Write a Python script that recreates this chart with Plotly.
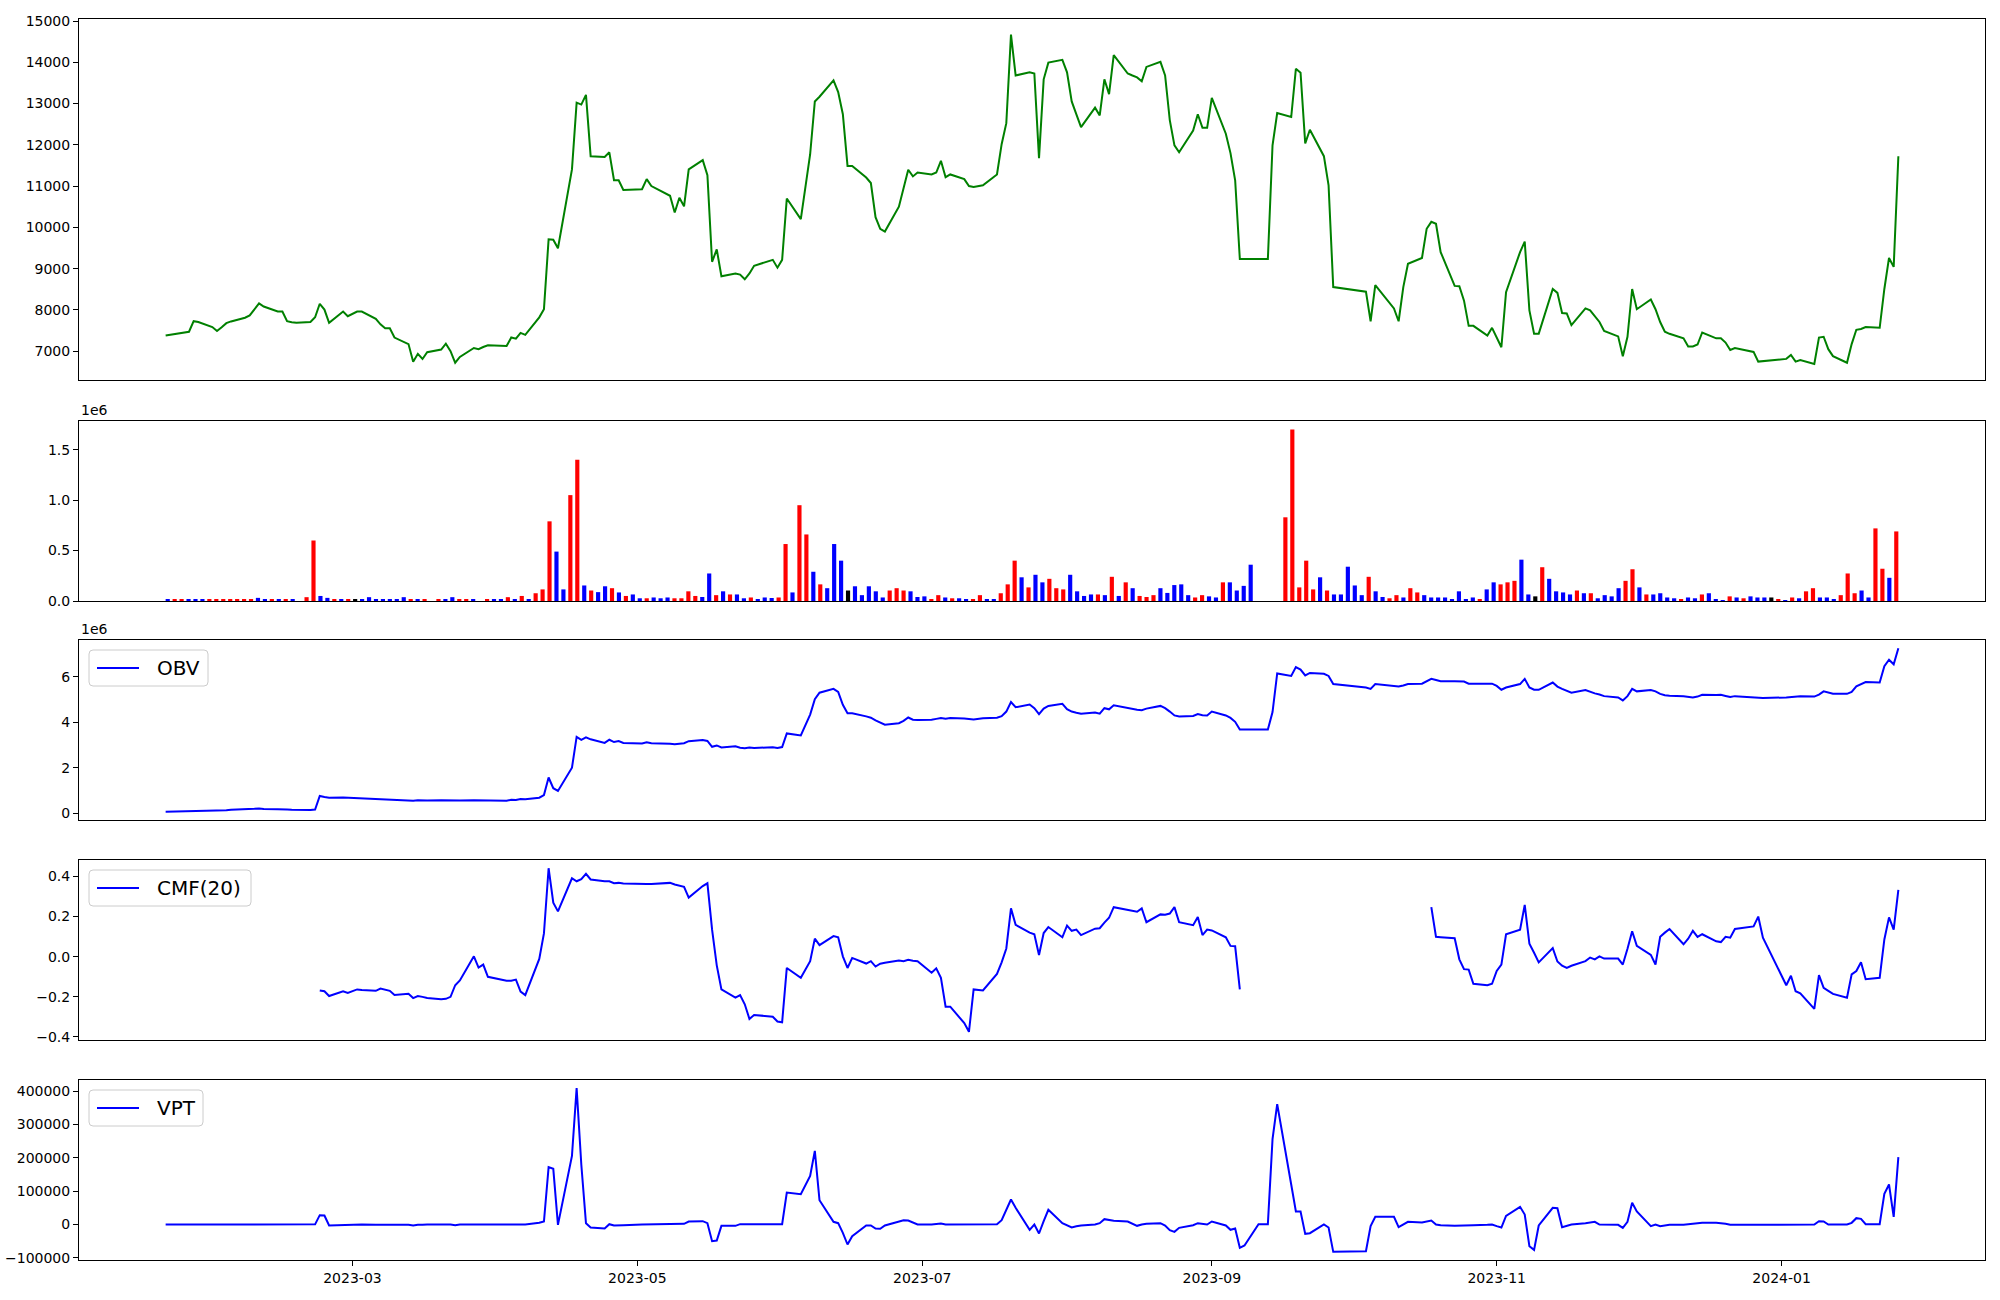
import pandas as pd
import plotly.graph_objects as go

# ---------------- data ----------------
all_days = pd.bdate_range("2023-01-20", "2024-01-26")
missing_days = pd.to_datetime([
    "2023-01-23", "2023-01-24", "2023-03-31", "2023-05-01", "2023-05-05",
    "2023-05-29", "2023-06-06", "2023-07-13", "2023-09-28", "2023-09-29",
    "2023-10-02", "2023-10-03", "2023-10-09", "2023-12-25", "2023-12-29",
    "2024-01-01"])
dates = all_days[~all_days.isin(missing_days)]

price = [
    7376, 7470, 7725, 7706, 7583, 7489, 7580, 7677, 7720, 7810,
    7866, 8000, 8158, 8082, 7960, 7960, 7725, 7700, 7687, 7706,
    7819, 8148, 8007, 7687, 7960, 7847, 7900, 7960, 7960, 7781,
    7650, 7555, 7555, 7329, 7170, 6745, 6934, 6810, 6972, 7037,
    7179, 7000, 6718, 6859, 7075, 7047, 7100, 7140, 7122, 7330,
    7300, 7442, 7395, 7818, 8016, 9711, 9701, 9494, 11405, 13023,
    12976, 13212, 11725, 11706, 11819, 11141, 11141, 10906, 10925, 11169,
    11000, 10765, 10360, 10718, 10510, 11405, 11630, 11263, 9165, 9465,
    8816, 8882, 8854, 8741, 8882, 9070, 9212, 9023, 9212, 10699,
    10200, 11772, 13052, 13165, 13560, 13278, 12741, 11490, 11490, 11207,
    11075, 10247, 9965, 9899, 10501, 10950, 11395, 11235, 11329, 11282,
    11329, 11612, 11216, 11282, 11169, 11000, 10981, 11019, 11282, 12016,
    12525, 14671, 13682, 13758, 13730, 11678, 13588, 13993, 14059, 13758,
    13052, 12740, 12430, 12901, 12713, 13588, 13230, 14172, 13729, 13680,
    13635, 13541, 13889, 14012, 13682, 12600, 11988, 11819, 12346, 12741,
    12412, 12412, 13136, 12270, 11800, 11141, 9231, 9231, 9231, 9231,
    9231, 11988, 12769, 12675, 13842, 13748, 12035, 12365, 11725, 11019,
    8553, 8440, 7724, 8600, 8035, 7724, 8553, 9118, 9259, 9965,
    10134, 10087, 9400, 8581, 8572, 8223, 7612, 7612, 7376, 7565,
    7348, 7094, 8430, 9400, 9654, 7988, 7424, 7424, 8506, 8412,
    7922, 7913, 7630, 8035, 7988, 7850, 7706, 7489, 7357, 6878,
    7348, 8506, 8016, 8251, 8016, 7706, 7470, 7420, 7310, 7113,
    7113, 7160, 7452, 7310, 7310, 7207, 7028, 7075, 6981, 6746,
    6755, 6812, 6906, 6746, 6783, 6689, 7330, 7348, 7047, 6878,
    6718, 7170, 7517, 7536, 7583, 7565, 8506, 9259, 9042, 11725,
]

volume = [
    12000, 12000, 19000, 12000, 12000, 12000, 19000, 19000, 19000, 19000,
    12000, 19000, 19000, 31000, 19000, 12000, 19000, 19000, 12000, 0,
    38000, 600000, 50000, 31000, 19000, 12000, 19000, 12000, 12000, 38000,
    12000, 12000, 19000, 12000, 38000, 19000, 12000, 12000, 0, 12000,
    12000, 38000, 19000, 12000, 12000, 0, 12000, 12000, 19000, 38000,
    12000, 50000, 12000, 77000, 115000, 790000, 490000, 115000, 1050000, 1400000,
    154000, 104000, 88000, 146000, 127000, 85000, 50000, 65000, 27000, 27000,
    35000, 27000, 35000, 27000, 27000, 96000, 50000, 40000, 273000, 58000,
    96000, 65000, 65000, 27000, 35000, 20000, 35000, 30000, 35000, 565000,
    85000, 950000, 660000, 290000, 165000, 127000, 565000, 400000, 104000, 146000,
    58000, 146000, 96000, 35000, 104000, 127000, 104000, 96000, 40000, 46000,
    20000, 58000, 35000, 27000, 27000, 20000, 20000, 58000, 15000, 15000,
    77000, 165000, 400000, 235000, 135000, 260000, 185000, 220000, 127000, 115000,
    260000, 96000, 50000, 65000, 65000, 58000, 240000, 50000, 185000, 127000,
    50000, 40000, 58000, 127000, 80000, 158000, 165000, 58000, 35000, 58000,
    46000, 35000, 185000, 185000, 104000, 150000, 360000, None, None, None,
    None, 830000, 1700000, 135000, 400000, 115000, 235000, 104000, 65000, 65000,
    340000, 154000, 58000, 240000, 96000, 40000, 27000, 58000, 35000, 127000,
    85000, 58000, 35000, 35000, 35000, 12000, 96000, 20000, 35000, 20000,
    115000, 185000, 165000, 185000, 200000, 410000, 65000, 46000, 335000, 220000,
    96000, 85000, 65000, 104000, 77000, 77000, 27000, 58000, 46000, 127000,
    200000, 315000, 135000, 65000, 65000, 77000, 35000, 27000, 15000, 35000,
    27000, 65000, 77000, 15000, 8000, 46000, 35000, 27000, 46000, 35000,
    35000, 35000, 12000, 8000, 35000, 27000, 96000, 127000, 35000, 35000,
    15000, 58000, 273000, 77000, 104000, 35000, 720000, 320000, 230000, 690000,
]

# bar direction: r = up, b = down, k = unchanged
bar_dir = list(
    "brrbbbrrrr" "rrrbbrbrbb" "rrbbrbrkbb" "bbbbbrbrbr" "bbrrbbrbbr"
    "brbrrrbbrr" "brbbrbrbbr" "bbbrrrrbbr" "brbbrbbbrr" "brrbrbbbkb"
    "bbbbrrrbbb" "rrbrbbrrbb" "rrrbrbbrrr" "bbbbrbrbrb" "rrrbbbbbrr"
    "bbrbbbbbbb" "brrrrrbrbb" "bbbrbbrrbr" "rbbbbbbbbr" "bbrrrbbkrb"
    "bbbrbrbbbb" "rrbrbbbbrb" "brbbbrbrbb" "bkrbrbrrbb" "brrrbbrrbr"
)

obv = [
    0.06, 0.08, 0.10, 0.11, 0.11, 0.10, 0.11, 0.13, 0.15, 0.16,
    0.18, 0.19, 0.21, 0.18, 0.17, 0.18, 0.16, 0.15, 0.14, 0.14,
    0.16, 0.76, 0.71, 0.68, 0.69, 0.68, 0.69, 0.69, 0.68, 0.64,
    0.63, 0.62, 0.60, 0.59, 0.57, 0.55, 0.57, 0.56, 0.56, 0.57,
    0.56, 0.55, 0.55, 0.56, 0.57, 0.57, 0.58, 0.57, 0.55, 0.59,
    0.58, 0.62, 0.61, 0.68, 0.80, 1.57, 1.10, 0.98, 2.00, 3.36,
    3.23, 3.34, 3.25, 3.09, 3.23, 3.13, 3.17, 3.09, 3.07, 3.12,
    3.08, 3.05, 3.03, 3.06, 3.08, 3.17, 3.22, 3.18, 2.92, 2.98,
    2.89, 2.94, 2.88, 2.86, 2.89, 2.87, 2.90, 2.87, 2.91, 3.51,
    3.42, 4.34, 5.02, 5.30, 5.47, 5.34, 4.77, 4.40, 4.40, 4.26,
    4.20, 4.08, 4.00, 3.89, 3.96, 4.06, 4.21, 4.11, 4.10, 4.11,
    4.15, 4.19, 4.16, 4.19, 4.17, 4.15, 4.12, 4.18, 4.20, 4.27,
    4.47, 4.89, 4.66, 4.78, 4.62, 4.36, 4.60, 4.72, 4.81, 4.58,
    4.47, 4.42, 4.38, 4.43, 4.38, 4.62, 4.57, 4.75, 4.62, 4.58,
    4.55, 4.53, 4.60, 4.72, 4.62, 4.47, 4.30, 4.25, 4.28, 4.36,
    4.31, 4.30, 4.47, 4.30, 4.19, 4.02, 3.68, 3.68, 3.68, 3.68,
    3.68, 4.45, 6.15, 6.04, 6.43, 6.32, 6.06, 6.17, 6.13, 6.04,
    5.68, 5.53, 5.47, 5.68, 5.60, 5.57, 5.62, 5.68, 5.70, 5.80,
    5.91, 5.86, 5.81, 5.80, 5.79, 5.79, 5.70, 5.70, 5.69, 5.70,
    5.60, 5.43, 5.53, 5.68, 5.91, 5.53, 5.43, 5.43, 5.75, 5.57,
    5.47, 5.40, 5.30, 5.42, 5.34, 5.27, 5.22, 5.15, 5.09, 4.96,
    5.15, 5.47, 5.36, 5.42, 5.36, 5.25, 5.19, 5.17, 5.15, 5.12,
    5.09, 5.13, 5.21, 5.20, 5.21, 5.16, 5.11, 5.15, 5.09, 5.06,
    5.07, 5.09, 5.11, 5.11, 5.15, 5.13, 5.22, 5.36, 5.30, 5.26,
    5.25, 5.34, 5.58, 5.67, 5.77, 5.75, 6.47, 6.75, 6.55, 7.26,
]  # millions

N = None
cmf = [
    N, N, N, N, N, N, N, N, N, N,
    N, N, N, N, N, N, N, N, N, N,
    N, -0.168, -0.172, -0.196, -0.172, -0.180, -0.172, -0.163, -0.166, -0.170,
    -0.159, -0.165, -0.170, -0.191, -0.185, -0.206, -0.196, -0.200, -0.206, -0.212,
    -0.210, -0.200, -0.142, -0.118, 0.002, -0.054, -0.039, -0.100, -0.120, -0.120,
    -0.114, -0.174, -0.191, -0.011, 0.116, 0.441, 0.269, 0.226, 0.391, 0.376,
    0.387, 0.413, 0.385, 0.376, 0.376, 0.366, 0.368, 0.365, 0.361, 0.362,
    0.363, 0.368, 0.360, 0.355, 0.348, 0.295, 0.352, 0.366, 0.135, -0.043,
    -0.163, -0.204, -0.191, -0.237, -0.310, -0.290, -0.299, -0.323, -0.327, -0.056,
    -0.105, -0.022, 0.090, 0.058, 0.103, 0.097, 0.002, -0.056, -0.006, -0.034,
    -0.022, -0.049, -0.035, -0.030, -0.019, -0.022, -0.015, -0.020, -0.022, -0.080,
    -0.058, -0.105, -0.249, -0.249, -0.331, -0.374, -0.163, -0.168, -0.086, -0.028,
    0.041, 0.241, 0.159, 0.120, 0.112, 0.009, 0.118, 0.148, 0.097, 0.155,
    0.129, 0.135, 0.108, 0.140, 0.142, 0.170, 0.194, 0.247, 0.235, 0.230,
    0.224, 0.241, 0.172, 0.211, 0.209, 0.215, 0.247, 0.172, 0.157, 0.198,
    0.108, 0.135, 0.131, 0.097, 0.054, 0.052, -0.163, N, N, N,
    N, N, N, N, N, N, N, N, N, N,
    N, N, N, N, N, N, N, N, N, N,
    0.247, 0.099, 0.097, 0.092, -0.013, -0.062, -0.064, -0.135, -0.142, -0.135,
    -0.071, -0.039, 0.112, 0.135, 0.258, 0.065, 0.020, -0.028, 0.043, -0.024,
    -0.045, -0.056, -0.045, -0.022, -0.004, -0.013, 0.002, -0.009, -0.009, -0.039,
    0.040, 0.127, 0.054, 0.009, -0.039, 0.099, 0.120, 0.138, 0.062, 0.090,
    0.129, 0.099, 0.112, 0.077, 0.073, 0.099, 0.095, 0.138, 0.151, 0.200,
    0.095, -0.142, -0.095, -0.172, -0.183, -0.260, -0.092, -0.155, -0.170, -0.185,
    -0.204, -0.088, -0.071, -0.028, -0.112, -0.105, 0.086, 0.196, 0.135, 0.333,
]

vpt = [
    0, 0, 500, 0, 0, -300, 200, 300, 200, 300,
    0, 300, 500, -300, -200, 0, -500, 0, -200, 0,
    500, 28000, 27000, -3000, -1000, -500, 0, 0, 0, -500,
    -500, -300, 0, -1500, -800, -2600, -500, -800, 0, 0,
    500, -300, -2000, 0, 300, 0, 0, 0, 0, 300,
    0, 500, 0, 5000, 9000, 172000, 167000, -1000, 206000, 409000,
    180000, 4000, -9000, -12000, 1000, -3000, -3000, -2000, 0, 0,
    0, 0, 0, 1000, 2000, 9000, 10000, 4000, -50000, -48000,
    -4000, -4000, 1000, 1000, 1000, 1000, 1000, 1000, 1000, 96000,
    91000, 146000, 221000, 73000, 8000, 4000, -25000, -60000, -35000, -3000,
    -3000, -12000, -13000, -3000, 8000, 13000, 12000, 5000, 0, 0,
    1000, 3000, 0, 0, 0, 0, 0, 0, 1000, 13000,
    45000, 75000, 50000, -16000, 0, -27000, 10000, 44000, 4000, -3000,
    -9000, -5000, -3000, 0, 4000, 16000, 13000, 11000, 9000, 3000,
    -4000, 0, 2000, 4000, -3000, -17000, -22000, -10000, -2000, 4000,
    2000, 0, 9000, -3000, -16000, -12000, -70000, -63000, 1000, 1000,
    1000, 256000, 361000, 120000, 39000, 39000, -28000, -26000, 0, -9000,
    -82000, -80000, -5000, 23000, 23000, -8000, 0, 8000, 6000, 8000,
    12000, 0, -2000, -4000, -3000, -3000, -2000, -2000, -1000, 0,
    -5000, -9000, 26000, 53000, 30000, -65000, -76000, -3000, 50000, 49000,
    -8000, -4000, 0, 4000, 6000, 8000, 0, 0, -1000, -10000,
    8000, 65000, 39000, -5000, 0, -5000, -4000, -1000, -1000, 0,
    1000, 3000, 5000, 5000, 4000, 2000, -1000, -1000, -1000, -1000,
    -1000, -1000, -1000, -1000, -1000, 0, 10000, 9000, 0, 0,
    0, 5000, 19000, 17000, 1000, 1000, 92000, 120000, 23000, 202000,
]

x_tick_dates = ["2023-03-01", "2023-05-01", "2023-07-01", "2023-09-01", "2023-11-01", "2024-01-01"]
x_tick_labels = ["2023-03", "2023-05", "2023-07", "2023-09", "2023-11", "2024-01"]
price_ticks = [7000, 8000, 9000, 10000, 11000, 12000, 13000, 14000, 15000]
price_tick_labels = ["7000", "8000", "9000", "10000", "11000", "12000", "13000", "14000", "15000"]
vol_ticks = [0, 500000, 1000000, 1500000]
vol_tick_labels = ["0.0", "0.5", "1.0", "1.5"]
obv_ticks = [0, 2, 4, 6]
cmf_ticks = [-0.4, -0.2, 0.0, 0.2, 0.4]
cmf_tick_labels = ["\u22120.4", "\u22120.2", "0.0", "0.2", "0.4"]
vpt_ticks = [-100000, 0, 100000, 200000, 300000, 400000]
vpt_tick_labels = ["\u2212100000", "0", "100000", "200000", "300000", "400000"]
legend_labels = ["OBV", "CMF(20)", "VPT"]

# ---------------- figure ----------------
color_map = {"r": "#ff0000", "b": "#0000ff", "k": "#000000"}
bar_colors = [color_map[c] for c in bar_dir]
bar_index = list(range(len(volume)))
obv_units = [v * 1e6 for v in obv]

fig = go.Figure()
fig.add_trace(go.Scatter(x=dates, y=price, mode="lines", line=dict(color="#008000", width=2),
                         xaxis="x", yaxis="y", showlegend=False))
fig.add_trace(go.Bar(x=bar_index, y=volume, marker=dict(color=bar_colors, line=dict(width=0)),
                     width=0.6, xaxis="x2", yaxis="y2", showlegend=False))
fig.add_trace(go.Scatter(x=dates, y=obv_units, mode="lines", name=legend_labels[0],
                         line=dict(color="#0000ff", width=2), xaxis="x3", yaxis="y3", showlegend=False))
fig.add_trace(go.Scatter(x=dates, y=cmf, mode="lines", name=legend_labels[1], connectgaps=False,
                         line=dict(color="#0000ff", width=2), xaxis="x4", yaxis="y4", showlegend=False))
fig.add_trace(go.Scatter(x=dates, y=vpt, mode="lines", name=legend_labels[2],
                         line=dict(color="#0000ff", width=2), xaxis="x5", yaxis="y5", showlegend=False))

# page geometry (body margin is removed by the post script, figure sits at 0,0)
PLOT_L, PLOT_R, PLOT_T, PLOT_B = 79, 1985, 19, 1260
W, H = 2000, 1300
ML, MT = PLOT_L, PLOT_T
MR = W - PLOT_R
MB = H - PLOT_B
PW = PLOT_R - PLOT_L
PH = PLOT_B - PLOT_T


def px_x(x):
    return (x - PLOT_L) / PW


def px_y(y):
    return 1 - (y - PLOT_T) / PH


def ydom(top_px, bot_px):
    return [px_y(bot_px), px_y(top_px)]


axis_common = dict(showline=True, mirror=True, linecolor="black", linewidth=1,
                   showgrid=False, zeroline=False, tickfont=dict(size=14, color="black"),
                   ticks="outside", ticklen=5, tickwidth=1, tickcolor="black", automargin=False)
date_range = ["2023-01-01 10:48", "2024-02-13 13:12"]
hidden_x = dict(axis_common, ticks="", showticklabels=False)

layout = dict(
    width=W, height=H,
    margin=dict(l=ML, r=MR, t=MT, b=MB, autoexpand=False),
    paper_bgcolor="white", plot_bgcolor="white",
    font=dict(family="DejaVu Sans", color="black"),
    showlegend=False,
    xaxis=dict(hidden_x, type="date", range=date_range, anchor="y", domain=[0, 1]),
    yaxis=dict(axis_common, domain=ydom(19, 380), range=[6300, 15050], tickvals=price_ticks,
               ticktext=price_tick_labels, anchor="x"),
    xaxis2=dict(hidden_x, range=[-12.78, 261.78], anchor="y2", domain=[0, 1]),
    yaxis2=dict(axis_common, domain=ydom(421, 601), range=[0, 1785000], tickvals=vol_ticks,
                ticktext=vol_tick_labels, anchor="x2"),
    xaxis3=dict(hidden_x, type="date", range=date_range, anchor="y3", matches="x", domain=[0, 1]),
    yaxis3=dict(axis_common, domain=ydom(640, 820), range=[-0.3e6, 7.62e6],
                tickvals=[t * 1e6 for t in obv_ticks], ticktext=[str(t) for t in obv_ticks], anchor="x3"),
    xaxis4=dict(hidden_x, type="date", range=date_range, anchor="y4", matches="x", domain=[0, 1]),
    yaxis4=dict(axis_common, domain=ydom(860, 1040), range=[-0.415, 0.482], tickvals=cmf_ticks,
                ticktext=cmf_tick_labels, anchor="x4"),
    xaxis5=dict(axis_common, type="date", range=date_range, anchor="y5", matches="x", domain=[0, 1],
                tickvals=x_tick_dates, ticktext=x_tick_labels),
    yaxis5=dict(axis_common, domain=ydom(1080, 1260), range=[-106500, 433500], tickvals=vpt_ticks,
                ticktext=vpt_tick_labels, anchor="x5"),
)
fig.update_layout(**layout)

# "1e6" offset labels
for top_px in (421, 640):
    fig.add_annotation(xref="paper", yref="paper", x=0, y=px_y(top_px),
                       text="1e6", showarrow=False, xanchor="left", yanchor="bottom",
                       font=dict(size=14, color="black"), yshift=1)


# matplotlib-style legend boxes (rounded, light grey edge)
def rounded_box(x0, y0, x1, y1, r=4):
    X0, X1 = px_x(x0), px_x(x1)
    YT, YB = px_y(y0), px_y(y1)
    rx, ry = r / PW, r / PH
    return (f"M {X0 + rx},{YT} L {X1 - rx},{YT} Q {X1},{YT} {X1},{YT - ry} "
            f"L {X1},{YB + ry} Q {X1},{YB} {X1 - rx},{YB} L {X0 + rx},{YB} "
            f"Q {X0},{YB} {X0},{YB + ry} L {X0},{YT - ry} Q {X0},{YT} {X0 + rx},{YT} Z")


legend_boxes = [(650, 208), (870, 251), (1090, 203)]
for label, (top, right) in zip(legend_labels, legend_boxes):
    fig.add_shape(type="path", xref="paper", yref="paper", path=rounded_box(89, top, right, top + 36),
                  fillcolor="rgba(255,255,255,0.8)", line=dict(color="#cccccc", width=1), layer="above")
    fig.add_shape(type="line", xref="paper", yref="paper", x0=px_x(97), x1=px_x(139),
                  y0=px_y(top + 18), y1=px_y(top + 18), line=dict(color="#0000ff", width=2), layer="above")
    fig.add_annotation(xref="paper", yref="paper", x=px_x(155), y=px_y(top + 18), text=label,
                       showarrow=False, xanchor="left", yanchor="middle",
                       font=dict(size=20, color="black", family="DejaVu Sans"))

fig.write_html("out.html",
               config={"displayModeBar": False},
               post_script="document.body.style.margin='0';document.body.style.overflow='hidden';")
